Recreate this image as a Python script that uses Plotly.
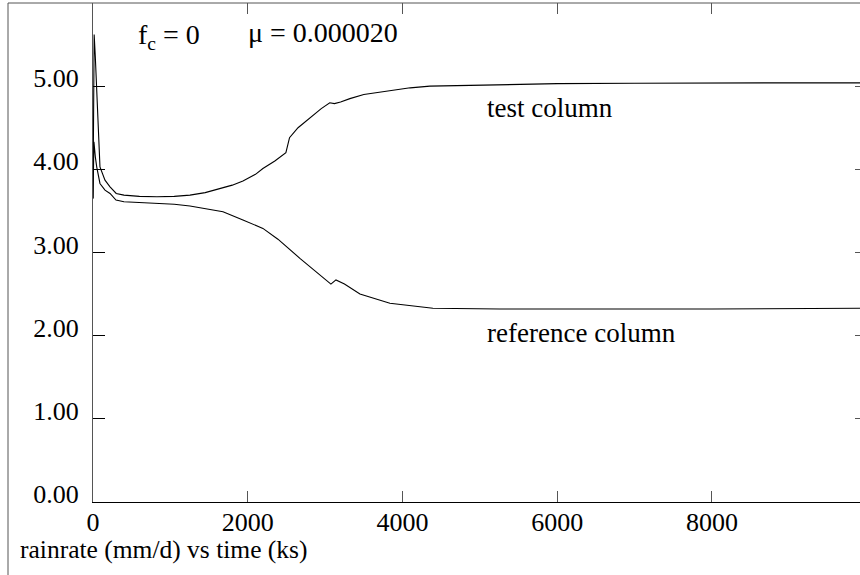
import plotly.graph_objects as go

# time (ks) and rainrate (mm/d)
test_t = [0, 15, 30, 48, 68, 90, 155, 220, 300, 400, 600, 827, 1050, 1253, 1450,
          1602, 1800, 1938, 2100, 2196, 2350, 2493, 2540, 2650, 2800, 2950, 3060,
          3120, 3200, 3320, 3500, 3837, 4100, 4354, 5039, 6000, 7000, 8000, 9000, 9913]
test_v = [3.65, 5.62, 5.35, 5.0, 4.43, 4.03, 3.87, 3.79, 3.71, 3.69, 3.675, 3.67,
          3.675, 3.69, 3.72, 3.76, 3.81, 3.86, 3.94, 4.01, 4.10, 4.20, 4.38, 4.50,
          4.62, 4.73, 4.80, 4.79, 4.81, 4.85, 4.90, 4.95, 4.98, 5.00, 5.01, 5.03,
          5.035, 5.04, 5.04, 5.04]

ref_t = [0, 12, 30, 48, 90, 155, 220, 297, 400, 600, 827, 1050, 1253, 1450, 1680,
         1938, 2196, 2390, 2674, 3075, 3140, 3250, 3450, 3837, 4393, 5258, 6500,
         8000, 9913]
ref_v = [3.65, 4.33, 4.15, 4.03, 3.83, 3.75, 3.71, 3.63, 3.61, 3.60, 3.59, 3.58,
         3.56, 3.53, 3.49, 3.39, 3.29, 3.16, 2.93, 2.62, 2.67, 2.62, 2.50, 2.39,
         2.33, 2.32, 2.32, 2.32, 2.33]

x_ticks = [0, 2000, 4000, 6000, 8000]
y_ticks = [0, 1, 2, 3, 4, 5]

XMAX = 9913
YMAX = 6.0
FONT = "Liberation Serif"
AX = "#555555"

fig = go.Figure()
fig.add_trace(go.Scatter(x=test_t, y=test_v, mode="lines",
                         line=dict(color="black", width=1.1), showlegend=False))
fig.add_trace(go.Scatter(x=ref_t, y=ref_v, mode="lines",
                         line=dict(color="black", width=1.1), showlegend=False))
# helper trace for mirrored tick axes
fig.add_trace(go.Scatter(x=[None], y=[None], xaxis="x2", yaxis="y2",
                         mode="lines", showlegend=False, hoverinfo="skip"))

fig.update_layout(
    width=860, height=575,
    margin=dict(l=93, r=0, t=3, b=73),
    paper_bgcolor="white", plot_bgcolor="white",
    font=dict(family=FONT, size=26, color="black"),
    xaxis=dict(range=[0, XMAX], tickvals=x_ticks, ticktext=[str(v) for v in x_ticks],
               ticks="inside", ticklen=11, tickcolor=AX, showline=True,
               linecolor="black", linewidth=1, showgrid=False, zeroline=False,
               ticklabelstandoff=-3, tickfont=dict(family=FONT, size=26)),
    yaxis=dict(range=[0, YMAX], tickvals=y_ticks, ticktext=[f"{v:.2f}" for v in y_ticks],
               ticks="inside", ticklen=12, tickcolor="black", showline=True,
               linecolor=AX, linewidth=1, showgrid=False, zeroline=False,
               ticklabelstandoff=8, ticklabelshift=-8,
               tickfont=dict(family=FONT, size=26)),
    xaxis2=dict(range=[0, XMAX], overlaying="x", side="top", anchor="y",
                tickvals=x_ticks, ticks="inside", ticklen=11, tickcolor=AX,
                showticklabels=False, showline=False, showgrid=False, zeroline=False),
    yaxis2=dict(range=[0, YMAX], overlaying="y", side="right", anchor="x",
                tickvals=y_ticks, ticks="inside", ticklen=5, tickcolor=AX,
                showticklabels=False, showline=False, showgrid=False, zeroline=False),
)

px_x = lambda p: (p - 93) / 767.0
px_y = lambda p: (502 - p) / 499.0

# outer frame lines
fig.add_shape(type="line", xref="paper", yref="paper", x0=px_x(8), x1=1.0,
              y0=1.0, y1=1.0, line=dict(color=AX, width=1))
fig.add_shape(type="line", xref="paper", yref="paper", x0=px_x(8), x1=px_x(8),
              y0=1.0, y1=px_y(576), line=dict(color=AX, width=1))

def ann(text, x, y, xanchor="left", size=27):
    fig.add_annotation(text=text, xref="paper", yref="paper", x=px_x(x), y=px_y(y),
                       xanchor=xanchor, yanchor="middle", showarrow=False,
                       font=dict(family=FONT, size=size, color="black"))

ann("f<sub>c</sub> = 0", 136, 37, size=28)
ann("μ = 0.000020", 246, 33, size=28)
ann("test column", 485, 108)
ann("reference column", 485, 333)
ann("rainrate (mm/d) vs time (ks)", 18, 549, size=25.5)

fig.write_html("out.html")
